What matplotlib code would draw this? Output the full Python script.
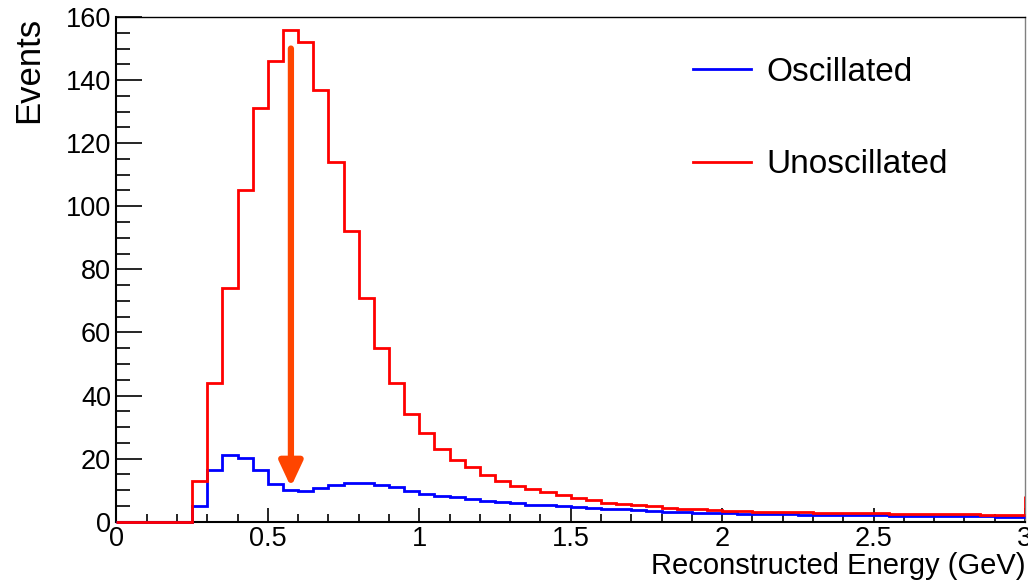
import numpy as np
import matplotlib
matplotlib.use('Agg')
import matplotlib.pyplot as plt
from matplotlib.ticker import MultipleLocator

plt.rcParams['font.family'] = ['Liberation Sans', 'DejaVu Sans']

# histogram binning: 60 bins of 0.05 GeV from 0 to 3
edges = np.linspace(0, 3, 61)

oscillated = [0, 0, 0, 0, 0, 5, 16.4, 21.0, 20.3, 16.4,
              11.9, 10.0, 9.7, 10.6, 11.6, 12.2, 12.2, 11.6, 11.0, 9.6,
              8.9, 8.3, 7.7, 7.3, 6.7, 6.2, 5.8, 5.4, 5.2, 4.9,
              4.7, 4.4, 4.1, 3.9, 3.6, 3.4, 3.2, 3.0, 2.9, 2.8,
              2.7, 2.6, 2.5, 2.4, 2.3, 2.2, 2.2, 2.1, 2.1, 2.0,
              2.0, 1.9, 1.9, 1.8, 1.8, 1.8, 1.7, 1.7, 1.6, 1.6]

unoscillated = [0, 0, 0, 0, 0, 13, 44, 74, 105, 131,
                146, 156, 152, 137, 114, 92, 71, 55, 44, 34,
                28, 23, 19.6, 17.2, 14.8, 12.9, 11.3, 10.3, 9.4, 8.4,
                7.6, 6.8, 6.0, 5.6, 5.2, 4.9, 4.5, 4.1, 3.9, 3.7,
                3.5, 3.4, 3.1, 3.2, 3.0, 3.0, 2.9, 2.9, 2.8, 2.8,
                2.7, 2.5, 2.6, 2.3, 2.3, 2.5, 2.4, 2.1, 2.0, 2.2]
unosc_overflow = 8

# annotation arrow (energy, top, tip)
arrow_x = 0.576
arrow_top = 150
arrow_tip = 11

fig = plt.figure(figsize=(10.28, 5.82), dpi=100)
ax = fig.add_axes([0.1133, 0.1036, 0.8838, 0.8672])

ax.stairs(oscillated, edges, baseline=None, color='#0000ff', lw=2, label='Oscillated',
          zorder=3, clip_on=False)
ax.stairs(unoscillated, edges, baseline=None, color='#ff0000', lw=2, label='Unoscillated',
          zorder=4, clip_on=False)
ax.plot([edges[-1], edges[-1]], [unoscillated[-1], unosc_overflow], color='#ff0000', lw=2, zorder=4,
        solid_capstyle='butt')

ax.annotate('', xy=(arrow_x, arrow_tip), xytext=(arrow_x, arrow_top),
            arrowprops=dict(arrowstyle='-|>,head_length=1.5,head_width=0.7', color='#ff4500',
                            lw=4.5, shrinkA=0, shrinkB=0), zorder=5)

ax.set_xlim(0, 3)
ax.set_ylim(0, 160)
ax.xaxis.set_major_locator(MultipleLocator(0.5))
ax.xaxis.set_minor_locator(MultipleLocator(0.1))
ax.yaxis.set_major_locator(MultipleLocator(20))
ax.yaxis.set_minor_locator(MultipleLocator(5))
ax.set_xticks([0, 0.5, 1, 1.5, 2, 2.5, 3], ['0', '0.5', '1', '1.5', '2', '2.5', '3'])

ax.tick_params(axis='both', which='both', direction='in', labelsize=19.5, color='black')
ax.tick_params(axis='y', which='major', length=19, width=1.2, pad=4)
ax.tick_params(axis='y', which='minor', length=10, width=1.2)
ax.tick_params(axis='x', which='major', length=10, width=1.2, pad=3)
ax.tick_params(axis='x', which='minor', length=6, width=1.2)

for s in ['left', 'bottom']:
    ax.spines[s].set_linewidth(1.5)
ax.spines['top'].set_linewidth(1.0)
ax.spines['right'].set_linewidth(1.0)
ax.spines['right'].set_color('#808080')

ax.set_ylabel('Events', fontsize=25, loc='top')
ax.yaxis.set_label_coords(-0.078, 1.0)
ax.set_xlabel('Reconstructed Energy (GeV)', fontsize=21, loc='right')
ax.xaxis.set_label_coords(1.0, -0.06)

ax.legend(loc='upper left', bbox_to_anchor=(0.62, 0.948), frameon=False, fontsize=24,
          labelspacing=1.85, handlelength=1.75, handletextpad=0.45, borderaxespad=0)

fig.savefig('out.png', dpi=100)
